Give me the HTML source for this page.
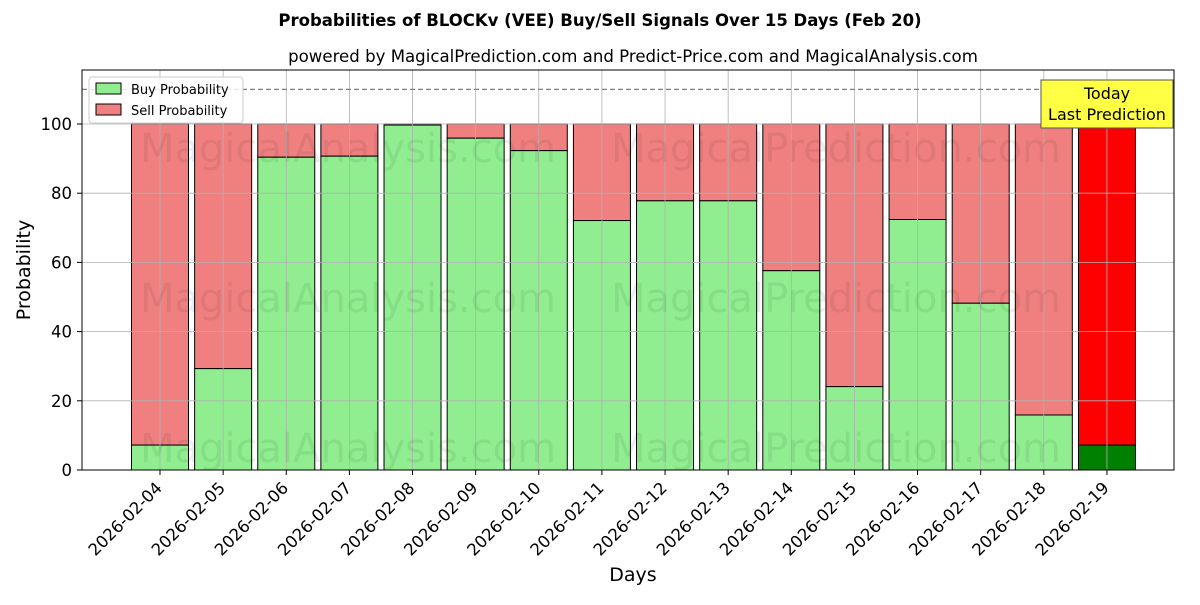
<!DOCTYPE html>
<html><head><meta charset="utf-8"><style>
body{margin:0;background:#fff;}
svg text{font-family:"DejaVu Sans","Liberation Sans",sans-serif;}
</style></head><body>
<svg id="chart" width="1200" height="600" xmlns="http://www.w3.org/2000/svg">
<rect width="1200" height="600" fill="#fff"/>
<text x="600" y="26" text-anchor="middle" font-size="16.5" font-weight="bold">Probabilities of BLOCKv (VEE) Buy/Sell Signals Over 15 Days (Feb 20)</text>
<text x="633" y="62" text-anchor="middle" font-size="16.6">powered by MagicalPrediction.com and Predict-Price.com and MagicalAnalysis.com</text>
<g id="bars"></g>
<g id="grid"></g>
<g id="wm" font-size="40" fill="#000" fill-opacity="0.07">
<text x="348" y="162" text-anchor="middle">MagicalAnalysis.com</text>
<text x="836" y="162" text-anchor="middle">MagicalPrediction.com</text>
<text x="348" y="312" text-anchor="middle">MagicalAnalysis.com</text>
<text x="836" y="312" text-anchor="middle">MagicalPrediction.com</text>
<text x="348" y="462" text-anchor="middle">MagicalAnalysis.com</text>
<text x="836" y="462" text-anchor="middle">MagicalPrediction.com</text>
</g>
<line x1="82" x2="1174" y1="89.4" y2="89.4" stroke="#808080" stroke-width="1.2" stroke-dasharray="5,3"/>
<rect x="82" y="70" width="1092" height="400" fill="none" stroke="#000" stroke-width="1"/>
<g id="axes" font-size="16.5"></g>
<text x="30" y="270" font-size="19" text-anchor="middle" transform="rotate(-90 30 270)">Probability</text>
<text x="633" y="581" font-size="19" text-anchor="middle">Days</text>
<g>
<rect x="89" y="77" width="154" height="46" fill="#fff" fill-opacity="0.8" stroke="#ccc" rx="3"/>
<rect x="96" y="83" width="25" height="11" fill="#90ee90" stroke="#000"/>
<text x="131" y="94" font-size="13">Buy Probability</text>
<rect x="96" y="104" width="25" height="11" fill="#f08080" stroke="#000"/>
<text x="131" y="115" font-size="13">Sell Probability</text>
</g>
<g>
<rect x="1041" y="80" width="132" height="48" fill="#ffff44" stroke="#555"/>
<text x="1107" y="99" font-size="16" text-anchor="middle">Today</text>
<text x="1107" y="120" font-size="16" text-anchor="middle">Last Prediction</text>
</g>
</svg>
<script>
const days=["2026-02-04","2026-02-05","2026-02-06","2026-02-07","2026-02-08","2026-02-09","2026-02-10","2026-02-11","2026-02-12","2026-02-13","2026-02-14","2026-02-15","2026-02-16","2026-02-17","2026-02-18","2026-02-19"];
const buy=[7.2,29.3,90.4,90.7,99.7,95.9,92.3,72.1,77.8,77.8,57.6,24.1,72.4,48.2,15.9,7.2];
const yTicks=[0,20,40,60,80,100];
const NS="http://www.w3.org/2000/svg";
const y=v=>470-v*3.46;
const x=i=>160+i*63.13;
const bw=57;
function mk(t,a,p){const e=document.createElementNS(NS,t);for(const k in a)e.setAttribute(k,a[k]);p.appendChild(e);return e;}
const grid=document.getElementById('grid'),bars=document.getElementById('bars'),axes=document.getElementById('axes');
yTicks.forEach(v=>{
 const g=mk('line',{x1:82,x2:1174,y1:y(v),y2:y(v),stroke:'#b0b0b0','stroke-width':0.8},grid);
 
 
 mk('line',{x1:77,x2:82,y1:y(v),y2:y(v),stroke:'#000'},axes);
 const t=mk('text',{x:72,y:y(v)+6,'text-anchor':'end'},axes);t.textContent=v;
 
 
});
days.forEach((d,i)=>{
 const cx=x(i);
 const gl=mk('line',{x1:cx,x2:cx,y1:70,y2:470,stroke:'#b0b0b0','stroke-width':0.8},grid);
 
 
 const last=i===days.length-1;
 const s=mk('rect',{x:cx-bw/2,y:y(100),width:bw,height:y(buy[i])-y(100),fill:last?'#ff0000':'#f08080',stroke:'#000','stroke-width':1},bars);
 
 
 const b=mk('rect',{x:cx-bw/2,y:y(buy[i]),width:bw,height:470-y(buy[i]),fill:last?'#008000':'#90ee90',stroke:'#000','stroke-width':1},bars);
 
 
 mk('line',{x1:cx,x2:cx,y1:470,y2:475,stroke:'#000'},axes);
 const tx=cx+3,ty=489;
 const t=mk('text',{x:tx,y:ty,'text-anchor':'end',transform:`rotate(-45 ${tx} ${ty})`},axes);t.textContent=d;
 
 
});
</script>
</body></html>
